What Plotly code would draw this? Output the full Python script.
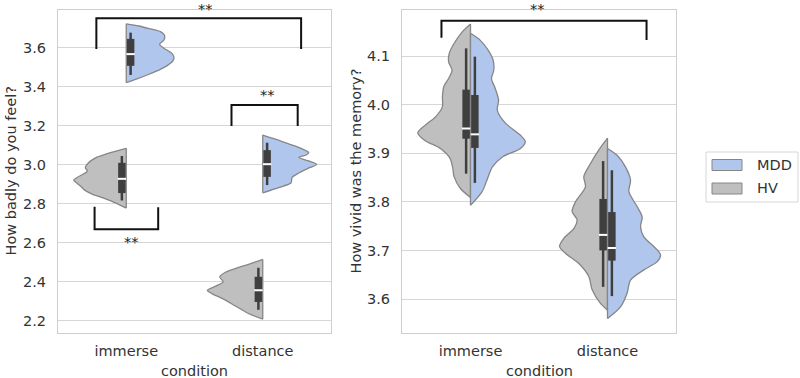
import plotly.graph_objects as go

W, H = 800, 378

categories = ["immerse", "distance"]
groups = ["MDD", "HV"]

# ---------- Left panel: "How badly do you feel?" (violin outlines: value, half-width) ----------
bad_mdd_immerse_y = [3.722, 3.711, 3.696, 3.682, 3.662, 3.639, 3.617, 3.597, 3.576, 3.554, 3.532, 3.508, 3.481, 3.460, 3.440, 3.421]
bad_mdd_immerse_w = [0.0, 0.092, 0.178, 0.251, 0.281, 0.276, 0.244, 0.276, 0.325, 0.349, 0.342, 0.300, 0.226, 0.153, 0.079, 0.0]

bad_hv_immerse_y = [3.084, 3.070, 3.055, 3.040, 3.020, 3.000, 2.985, 2.968, 2.950, 2.935, 2.922, 2.905, 2.887, 2.870, 2.850, 2.830, 2.805, 2.778]
bad_hv_immerse_w = [0.0, 0.075, 0.150, 0.210, 0.260, 0.290, 0.300, 0.285, 0.320, 0.360, 0.385, 0.360, 0.330, 0.305, 0.250, 0.170, 0.080, 0.0]

bad_mdd_distance_y = [3.152, 3.130, 3.106, 3.084, 3.062, 3.050, 3.038, 3.021, 3.002, 2.985, 2.959, 2.935, 2.908, 2.884, 2.856]
bad_mdd_distance_w = [0.0, 0.097, 0.195, 0.281, 0.337, 0.318, 0.263, 0.329, 0.396, 0.342, 0.268, 0.215, 0.207, 0.121, 0.0]

bad_hv_distance_y = [2.515, 2.491, 2.469, 2.448, 2.426, 2.400, 2.378, 2.357, 2.340, 2.310, 2.275, 2.238, 2.209]
bad_hv_distance_w = [0.0, 0.099, 0.197, 0.276, 0.315, 0.290, 0.344, 0.406, 0.373, 0.283, 0.197, 0.105, 0.0]

# box stats: [whisker low, q1, median, q3, whisker high] per condition
bad_box_mdd = [[3.460, 3.507, 3.567, 3.645, 3.677], [2.896, 2.938, 3.003, 3.075, 3.113]]
bad_box_hv = [[2.817, 2.855, 2.928, 3.010, 3.045], [2.257, 2.297, 2.357, 2.426, 2.472]]

# ---------- Right panel: "How vivid was the memory?" ----------
viv_mdd_immerse_y = [4.147, 4.133, 4.112, 4.092, 4.071, 4.054, 4.034, 4.009, 3.989, 3.962, 3.937, 3.924, 3.910, 3.893, 3.872, 3.845, 3.821, 3.793]
viv_mdd_immerse_w = [0.0, 0.070, 0.130, 0.165, 0.170, 0.153, 0.180, 0.205, 0.195, 0.255, 0.365, 0.400, 0.365, 0.235, 0.160, 0.120, 0.085, 0.0]

viv_hv_immerse_y = [4.166, 4.150, 4.126, 4.106, 4.088, 4.071, 4.054, 4.037, 4.016, 3.996, 3.975, 3.958, 3.942, 3.926, 3.910, 3.890, 3.870, 3.852, 3.828, 3.809]
viv_hv_immerse_w = [0.0, 0.060, 0.120, 0.155, 0.160, 0.135, 0.160, 0.195, 0.205, 0.205, 0.255, 0.330, 0.385, 0.330, 0.220, 0.150, 0.130, 0.120, 0.075, 0.0]

viv_mdd_distance_y = [3.910, 3.896, 3.872, 3.845, 3.821, 3.790, 3.769, 3.749, 3.728, 3.708, 3.691, 3.677, 3.660, 3.639, 3.612, 3.584, 3.560]
viv_mdd_distance_w = [0.0, 0.070, 0.131, 0.168, 0.156, 0.217, 0.253, 0.241, 0.265, 0.338, 0.387, 0.363, 0.265, 0.168, 0.143, 0.095, 0.0]

viv_hv_distance_y = [3.931, 3.907, 3.879, 3.852, 3.831, 3.800, 3.780, 3.763, 3.745, 3.725, 3.708, 3.694, 3.673, 3.646, 3.619, 3.591, 3.577]
viv_hv_distance_w = [0.0, 0.063, 0.124, 0.173, 0.161, 0.234, 0.258, 0.222, 0.246, 0.319, 0.350, 0.307, 0.209, 0.136, 0.112, 0.051, 0.0]

viv_box_mdd = [[3.839, 3.911, 3.939, 4.020, 4.099], [3.606, 3.679, 3.705, 3.779, 3.865]]
viv_box_hv = [[3.858, 3.930, 3.951, 4.031, 4.116], [3.625, 3.700, 3.732, 3.806, 3.884]]

# tick values and axis ranges
bad_ticks = [2.2, 2.4, 2.6, 2.8, 3.0, 3.2, 3.4, 3.6]
viv_ticks = [3.6, 3.7, 3.8, 3.9, 4.0, 4.1]
bad_range = [2.138, 3.793]
viv_range = [3.530, 4.195]

# significance brackets: x_left, x_right, y_left_end, y_bar, y_right_end, text_x, text_y
bad_brackets = [
    [-0.219, 1.281, 3.593, 3.751, 3.593, 0.58, 3.799],
    [0.771, 1.256, 3.198, 3.306, 3.198, 1.035, 3.357],
    [-0.232, 0.234, 2.785, 2.669, 2.782, 0.035, 2.605],
]
viv_brackets = [
    [-0.212, 1.285, 4.138, 4.173, 4.133, 0.49, 4.197],
]

# ---------- styles ----------
BLUE = "#b1c6ed"
GRAY = "#bfbfbf"
EDGE = "#868686"
BOXC = "#3f3f3f"
TXT = "#333333"
GRID = "#d6d6d6"
FONT = "DejaVu Sans"
FS = 14.5
BOX_OFF = 0.032

fig = go.Figure()


def add_half(xa, ya, pos, sign, ys, ws, fill):
    xs = [pos + sign * w for w in ws]
    fig.add_trace(go.Scatter(
        x=xs, y=ys, xaxis=xa, yaxis=ya, mode="lines", fill="toself",
        fillcolor=fill, line=dict(color=EDGE, width=1.3, shape="spline", smoothing=0.8),
        hoverinfo="skip", showlegend=False))
    fig.add_trace(go.Scatter(
        x=[pos, pos], y=[ys[0], ys[-1]], xaxis=xa, yaxis=ya, mode="lines",
        line=dict(color=EDGE, width=1.3), hoverinfo="skip", showlegend=False))


def add_box(xa, ya, pos, stats):
    lo, q1, med, q3, hi = stats
    fig.add_trace(go.Scatter(x=[pos, pos], y=[lo, hi], xaxis=xa, yaxis=ya, mode="lines",
                             line=dict(color=BOXC, width=2.5), hoverinfo="skip", showlegend=False))
    fig.add_trace(go.Scatter(x=[pos, pos], y=[q1, q3], xaxis=xa, yaxis=ya, mode="lines",
                             line=dict(color=BOXC, width=7.5), hoverinfo="skip", showlegend=False))
    fig.add_trace(go.Scatter(x=[pos], y=[med], xaxis=xa, yaxis=ya, mode="markers",
                             marker=dict(symbol="line-ew", size=6, line=dict(color="white", width=2)),
                             hoverinfo="skip", showlegend=False))


def add_bracket(xa, ya, yrange, b):
    x0, x1, y0, yb, y1, tx, ty = b
    fig.add_trace(go.Scatter(x=[x0, x0, x1, x1], y=[y0, yb, yb, y1], xaxis=xa, yaxis=ya,
                             mode="lines", line=dict(color="#111111", width=2),
                             hoverinfo="skip", showlegend=False))
    # text position expressed relative to the y-axis domain so it may sit above the plot area
    yd = (ty - yrange[0]) / (yrange[1] - yrange[0])
    fig.add_annotation(x=tx, y=yd, xref=xa, yref=ya + " domain", text="**", showarrow=False,
                       font=dict(size=FS, color="#222222", family=FONT),
                       xanchor="center", yanchor="middle")


# Left panel violins
add_half("x", "y", 0, +1, bad_mdd_immerse_y, bad_mdd_immerse_w, BLUE)
add_half("x", "y", 0, -1, bad_hv_immerse_y, bad_hv_immerse_w, GRAY)
add_half("x", "y", 1, +1, bad_mdd_distance_y, bad_mdd_distance_w, BLUE)
add_half("x", "y", 1, -1, bad_hv_distance_y, bad_hv_distance_w, GRAY)
for i in range(len(categories)):
    add_box("x", "y", i + BOX_OFF, bad_box_mdd[i])
    add_box("x", "y", i - BOX_OFF, bad_box_hv[i])
for b in bad_brackets:
    add_bracket("x", "y", bad_range, b)

# Right panel violins
add_half("x2", "y2", 0, -1, viv_hv_immerse_y, viv_hv_immerse_w, GRAY)
add_half("x2", "y2", 0, +1, viv_mdd_immerse_y, viv_mdd_immerse_w, BLUE)
add_half("x2", "y2", 1, -1, viv_hv_distance_y, viv_hv_distance_w, GRAY)
add_half("x2", "y2", 1, +1, viv_mdd_distance_y, viv_mdd_distance_w, BLUE)
for i in range(len(categories)):
    add_box("x2", "y2", i - BOX_OFF, viv_box_hv[i])
    add_box("x2", "y2", i + BOX_OFF, viv_box_mdd[i])
for b in viv_brackets:
    add_bracket("x2", "y2", viv_range, b)

ydom = [1 - 333 / H, 1 - 10 / H]
xcommon = dict(range=[-0.5, 1.5], tickmode="array", tickvals=list(range(len(categories))),
               ticktext=categories, showgrid=False, zeroline=False, showline=True, mirror=True,
               linecolor="#cfcfcf", linewidth=1, ticks="outside", ticklen=5,
               tickcolor="rgba(0,0,0,0)", tickfont=dict(size=FS, color=TXT, family=FONT),
               fixedrange=True)
ycommon = dict(showgrid=True, gridcolor=GRID, gridwidth=1, zeroline=False, showline=True,
               mirror=True, linecolor="#cfcfcf", linewidth=1, ticks="outside", ticklen=8,
               tickcolor="rgba(0,0,0,0)", tickfont=dict(size=FS, color=TXT, family=FONT),
               tickmode="array", fixedrange=True)

fig.update_layout(
    width=W, height=H, margin=dict(l=0, r=0, t=0, b=0),
    paper_bgcolor="white", plot_bgcolor="white",
    font=dict(family=FONT, size=FS, color=TXT),
    showlegend=False,
    xaxis=dict(domain=[58 / W, 331 / W], anchor="y", **xcommon),
    yaxis=dict(domain=ydom, anchor="x", range=bad_range, tickvals=bad_ticks,
               ticktext=[f"{v:.1f}" for v in bad_ticks], **ycommon),
    xaxis2=dict(domain=[402 / W, 676 / W], anchor="y2", **xcommon),
    yaxis2=dict(domain=ydom, anchor="x2", range=viv_range, tickvals=viv_ticks,
                ticktext=[f"{v:.1f}" for v in viv_ticks], **ycommon),
)

# axis titles
def pannot(px, py, text, angle=0):
    fig.add_annotation(x=px / W, y=1 - py / H, xref="paper", yref="paper", text=text,
                       showarrow=False, textangle=angle, xanchor="center", yanchor="middle",
                       font=dict(size=FS, color=TXT, family=FONT))

pannot(10, 171.5, "How badly do you feel?", -90)
pannot(355, 171.5, "How vivid was the memory?", -90)
pannot(194.5, 370.5, "condition")
pannot(539, 370.5, "condition")

# legend (drawn in paper coordinates)
fig.add_shape(type="rect", xref="paper", yref="paper", x0=706 / W, x1=798 / W,
              y0=1 - 202 / H, y1=1 - 152 / H, line=dict(color="#d6d6d6", width=1),
              fillcolor="rgba(255,255,255,0.9)")
leg_colors = [BLUE, GRAY]
leg_rows = [165, 188.5]
for g, c, ry in zip(groups, leg_colors, leg_rows):
    fig.add_shape(type="rect", xref="paper", yref="paper", x0=712 / W, x1=742 / W,
                  y0=1 - (ry + 5.5) / H, y1=1 - (ry - 5.5) / H,
                  line=dict(color=EDGE, width=1), fillcolor=c)
    fig.add_annotation(x=755 / W, y=1 - ry / H, xref="paper", yref="paper", text=g,
                       showarrow=False, xanchor="left", yanchor="middle",
                       font=dict(size=FS, color=TXT, family=FONT))

fig.write_html("out.html")
